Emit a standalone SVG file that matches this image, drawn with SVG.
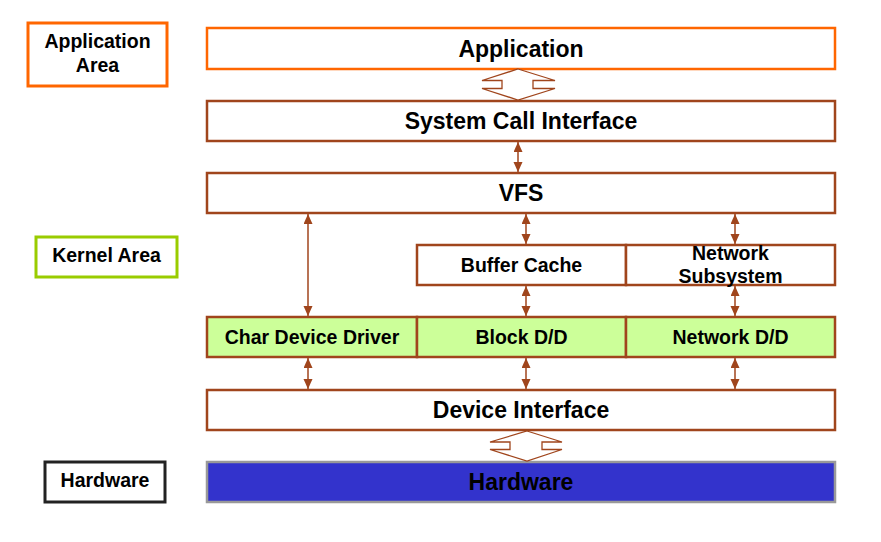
<svg xmlns="http://www.w3.org/2000/svg" width="881" height="542" viewBox="0 0 881 542">
<style>
text{font-family:"Liberation Sans",Arial,sans-serif;font-weight:bold;fill:#000;text-anchor:middle}
.big{font-size:23px}
.sm{font-size:19.5px}
.box{fill:#fff;stroke:#A0451C;stroke-width:2.5}
.dd{fill:#CCFF99;stroke:#A0451C;stroke-width:2.5}
.conn{stroke:#A0451C;stroke-width:1.5;fill:none}
.hol{fill:#fff;stroke:#A0451C;stroke-width:1.3;stroke-linejoin:miter}
</style>
<defs>
<marker id="ah" markerUnits="userSpaceOnUse" markerWidth="10" markerHeight="10" refX="10" refY="4.5" orient="auto-start-reverse">
<path d="M0,0 L10,4.5 L0,9 z" fill="#A0451C"/>
</marker>
</defs>
<rect width="881" height="542" fill="#fff"/>

<g id="legend-app">
<rect x="28" y="23" width="139" height="63" fill="#fff" stroke="#FF6600" stroke-width="3"/>
<text class="sm" x="97.5" y="48">Application</text>
<text class="sm" x="97.5" y="72">Area</text>
</g>
<g id="legend-kernel">
<rect x="36" y="237" width="141" height="40" fill="#fff" stroke="#99CC00" stroke-width="3"/>
<text class="sm" x="106.5" y="262">Kernel Area</text>
</g>
<g id="legend-hw">
<rect x="45" y="462" width="120" height="40" fill="#fff" stroke="#222" stroke-width="3"/>
<text class="sm" x="105" y="487">Hardware</text>
</g>

<g id="application">
<rect x="207" y="28" width="628" height="41" fill="#fff" stroke="#FF6600" stroke-width="2.5"/>
<text class="big" x="521" y="57">Application</text>
</g>
<g id="syscall">
<rect class="box" x="207" y="101" width="628" height="40"/>
<text class="big" x="521" y="129">System Call Interface</text>
</g>
<g id="vfs">
<rect class="box" x="207" y="173" width="628" height="40"/>
<text class="big" x="521" y="201">VFS</text>
</g>
<g id="buffer-cache">
<rect class="box" x="417" y="245" width="209" height="40"/>
<text class="sm" x="521.5" y="272">Buffer Cache</text>
</g>
<g id="network-subsystem">
<rect class="box" x="626" y="245" width="209" height="40"/>
<text class="sm" x="730.5" y="260">Network</text>
<text class="sm" x="730.5" y="283">Subsystem</text>
</g>
<g id="char-dd">
<rect class="dd" x="207" y="317" width="210" height="40"/>
<text class="sm" x="312" y="344">Char Device Driver</text>
</g>
<g id="block-dd">
<rect class="dd" x="417" y="317" width="209" height="40"/>
<text class="sm" x="521.5" y="344">Block D/D</text>
</g>
<g id="network-dd">
<rect class="dd" x="626" y="317" width="209" height="40"/>
<text class="sm" x="730.5" y="344">Network D/D</text>
</g>
<g id="device-interface">
<rect class="box" x="207" y="390" width="628" height="40"/>
<text class="big" x="521" y="418">Device Interface</text>
</g>
<g id="hardware">
<rect x="207" y="462" width="628" height="40" fill="#3333CC" stroke="#999" stroke-width="2.5"/>
<text class="big" x="521" y="490">Hardware</text>
</g>

<g id="connectors">
<polygon class="hol" points="518,69 555,80.5 533,80.5 533,88.5 555,88.5 518,100 482,88.5 502,88.5 502,80.5 482,80.5"/>
<polygon class="hol" points="527,431 562,442 542,442 542,449.5 562,449.5 527,461 490,449.5 510,449.5 510,442 490,442"/>
<line class="conn" x1="518" y1="142" x2="518" y2="172" marker-start="url(#ah)" marker-end="url(#ah)"/>
<line class="conn" x1="308" y1="214" x2="308" y2="316" marker-start="url(#ah)" marker-end="url(#ah)"/>
<line class="conn" x1="526" y1="214" x2="526" y2="244" marker-start="url(#ah)" marker-end="url(#ah)"/>
<line class="conn" x1="735" y1="214" x2="735" y2="244" marker-start="url(#ah)" marker-end="url(#ah)"/>
<line class="conn" x1="526" y1="286" x2="526" y2="316" marker-start="url(#ah)" marker-end="url(#ah)"/>
<line class="conn" x1="735" y1="286" x2="735" y2="316" marker-start="url(#ah)" marker-end="url(#ah)"/>
<line class="conn" x1="308" y1="358" x2="308" y2="389" marker-start="url(#ah)" marker-end="url(#ah)"/>
<line class="conn" x1="526" y1="358" x2="526" y2="389" marker-start="url(#ah)" marker-end="url(#ah)"/>
<line class="conn" x1="735" y1="358" x2="735" y2="389" marker-start="url(#ah)" marker-end="url(#ah)"/>
</g>
</svg>
